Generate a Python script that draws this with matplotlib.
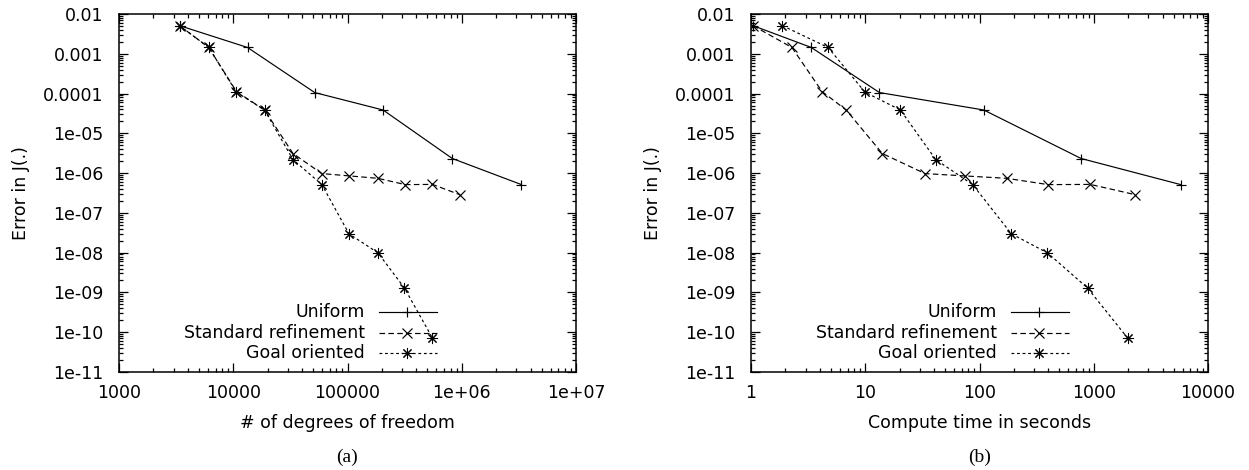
import numpy as np
import matplotlib
matplotlib.use("Agg")
import matplotlib.pyplot as plt
from matplotlib.ticker import FixedLocator, FixedFormatter, LogLocator, NullFormatter

# --- DATA ---
# (a) error vs degrees of freedom
dofs_uniform = [3384, 13330, 51600, 204700, 826000, 3330000]
err_uniform = [5.1e-3, 1.44e-3, 1.06e-4, 3.86e-5, 2.33e-6, 5.14e-7]

dofs_standard = [3384, 6100, 10660, 18770, 33300, 59600, 104000, 184600, 320000, 554000, 961000]
err_standard = [5.1e-3, 1.44e-3, 1.12e-4, 3.86e-5, 3.11e-6, 9.73e-7, 8.5e-7, 7.4e-7, 5.14e-7, 5.2e-7, 2.87e-7]

dofs_goal = [3384, 6100, 10660, 18770, 33300, 59600, 103000, 184600, 315000, 554000]
err_goal = [5.1e-3, 1.44e-3, 1.08e-4, 3.86e-5, 2.19e-6, 5.14e-7, 2.98e-8, 9.9e-9, 1.29e-9, 7.1e-11]

# (b) error vs compute time
time_uniform = [1.04, 3.37, 13.3, 109, 775, 5770]
time_standard = [1.04, 2.28, 4.19, 6.81, 14.1, 33.3, 74.1, 173, 399, 933, 2310]
time_goal = [1.88, 4.73, 9.96, 20.3, 41.4, 87.1, 190, 393, 883, 1982]

y_ticks = [1e-2, 1e-3, 1e-4, 1e-5, 1e-6, 1e-7, 1e-8, 1e-9, 1e-10, 1e-11]
y_ticklabels = ["0.01", "0.001", "0.0001", "1e-05", "1e-06", "1e-07",
                "1e-08", "1e-09", "1e-10", "1e-11"]
xa_ticks = [1e3, 1e4, 1e5, 1e6, 1e7]
xa_ticklabels = ["1000", "10000", "100000", "1e+06", "1e+07"]
xb_ticks = [1, 10, 100, 1000, 10000]
xb_ticklabels = ["1", "10", "100", "1000", "10000"]

labels = ["Uniform", "Standard refinement", "Goal oriented"]

# --- STYLE ---
plt.rcParams["font.family"] = ["DejaVu Sans"]
plt.rcParams["font.size"] = 12.5
plt.rcParams["lines.scale_dashes"] = False

LW = 0.85
MS = 7.5
ASTERISK = (8, 2, 0)
styles = [
    dict(color="black", lw=LW, linestyle="-", marker="+", ms=MS, mew=LW),
    dict(color="black", lw=LW, linestyle=(0, (4.0, 2.4)), marker="x", ms=MS, mew=LW),
    dict(color="black", lw=LW, linestyle=(0, (2.0, 2.0)), marker=ASTERISK, ms=MS + 0.5, mew=0.75),
]


def style_axes(ax, xticks, xticklabels, xlim):
    ax.set_xscale("log")
    ax.set_yscale("log")
    ax.set_xlim(*xlim)
    ax.set_ylim(1e-11, 1e-2)
    ax.xaxis.set_major_locator(FixedLocator(xticks))
    ax.xaxis.set_major_formatter(FixedFormatter(xticklabels))
    ax.yaxis.set_major_locator(FixedLocator(y_ticks))
    ax.yaxis.set_major_formatter(FixedFormatter(y_ticklabels))
    ax.xaxis.set_minor_locator(LogLocator(base=10, subs=np.arange(2, 10), numticks=50))
    ax.yaxis.set_minor_locator(LogLocator(base=10, subs=np.arange(2, 10), numticks=50))
    ax.xaxis.set_minor_formatter(NullFormatter())
    ax.yaxis.set_minor_formatter(NullFormatter())
    ax.tick_params(which="both", direction="in", top=True, right=True, width=0.9)
    ax.tick_params(which="major", length=6.5)
    ax.tick_params(which="minor", length=3)
    ax.tick_params(axis="x", which="major", pad=8.5)
    ax.tick_params(axis="y", which="major", pad=11)
    for s in ax.spines.values():
        s.set_linewidth(1.1)
    ax.set_ylabel("Error in J(.)")
    ax.yaxis.set_label_coords(-0.195, 0.5)


def draw_key(ax):
    # gnuplot style key: right aligned text followed by a sample line
    rows_y = [0.168, 0.109, 0.053]
    for lab, st, yy in zip(labels, styles, rows_y):
        ax.text(0.538, yy, lab, transform=ax.transAxes, ha="right", va="center")
        line_st = {k: v for k, v in st.items() if k not in ("marker", "ms", "mew")}
        ax.plot([0.569, 0.696], [yy, yy], transform=ax.transAxes, clip_on=False, **line_st)
        ax.plot([0.630], [yy], transform=ax.transAxes, clip_on=False, linestyle="none",
                color="black", marker=st["marker"], ms=st["ms"], mew=st["mew"])


fig = plt.figure(figsize=(12.49, 4.70), dpi=100)
ax1 = fig.add_axes([0.0953, 0.2085, 0.3659, 0.7617])
ax2 = fig.add_axes([0.6013, 0.2085, 0.3659, 0.7617])

# (a)
ax1.plot(dofs_uniform, err_uniform, **styles[0])
ax1.plot(dofs_standard, err_standard, **styles[1])
ax1.plot(dofs_goal, err_goal, **styles[2])
style_axes(ax1, xa_ticks, xa_ticklabels, (1e3, 1e7))
ax1.set_xlabel("# of degrees of freedom")
ax1.xaxis.set_label_coords(0.5, -0.118)
draw_key(ax1)

# (b)
ax2.plot(time_uniform, err_uniform, **styles[0])
ax2.plot(time_standard, err_standard, **styles[1])
ax2.plot(time_goal, err_goal, **styles[2])
style_axes(ax2, xb_ticks, xb_ticklabels, (1, 1e4))
ax2.set_xlabel("Compute time in seconds")
ax2.xaxis.set_label_coords(0.5, -0.118)
draw_key(ax2)

fig.text(347 / 1249, 1 - 457 / 470, "(a)", family="Liberation Serif", fontsize=14,
         ha="center", va="center")
fig.text(979.5 / 1249, 1 - 457 / 470, "(b)", family="Liberation Serif", fontsize=14,
         ha="center", va="center")

fig.savefig("out.png", dpi=100)
